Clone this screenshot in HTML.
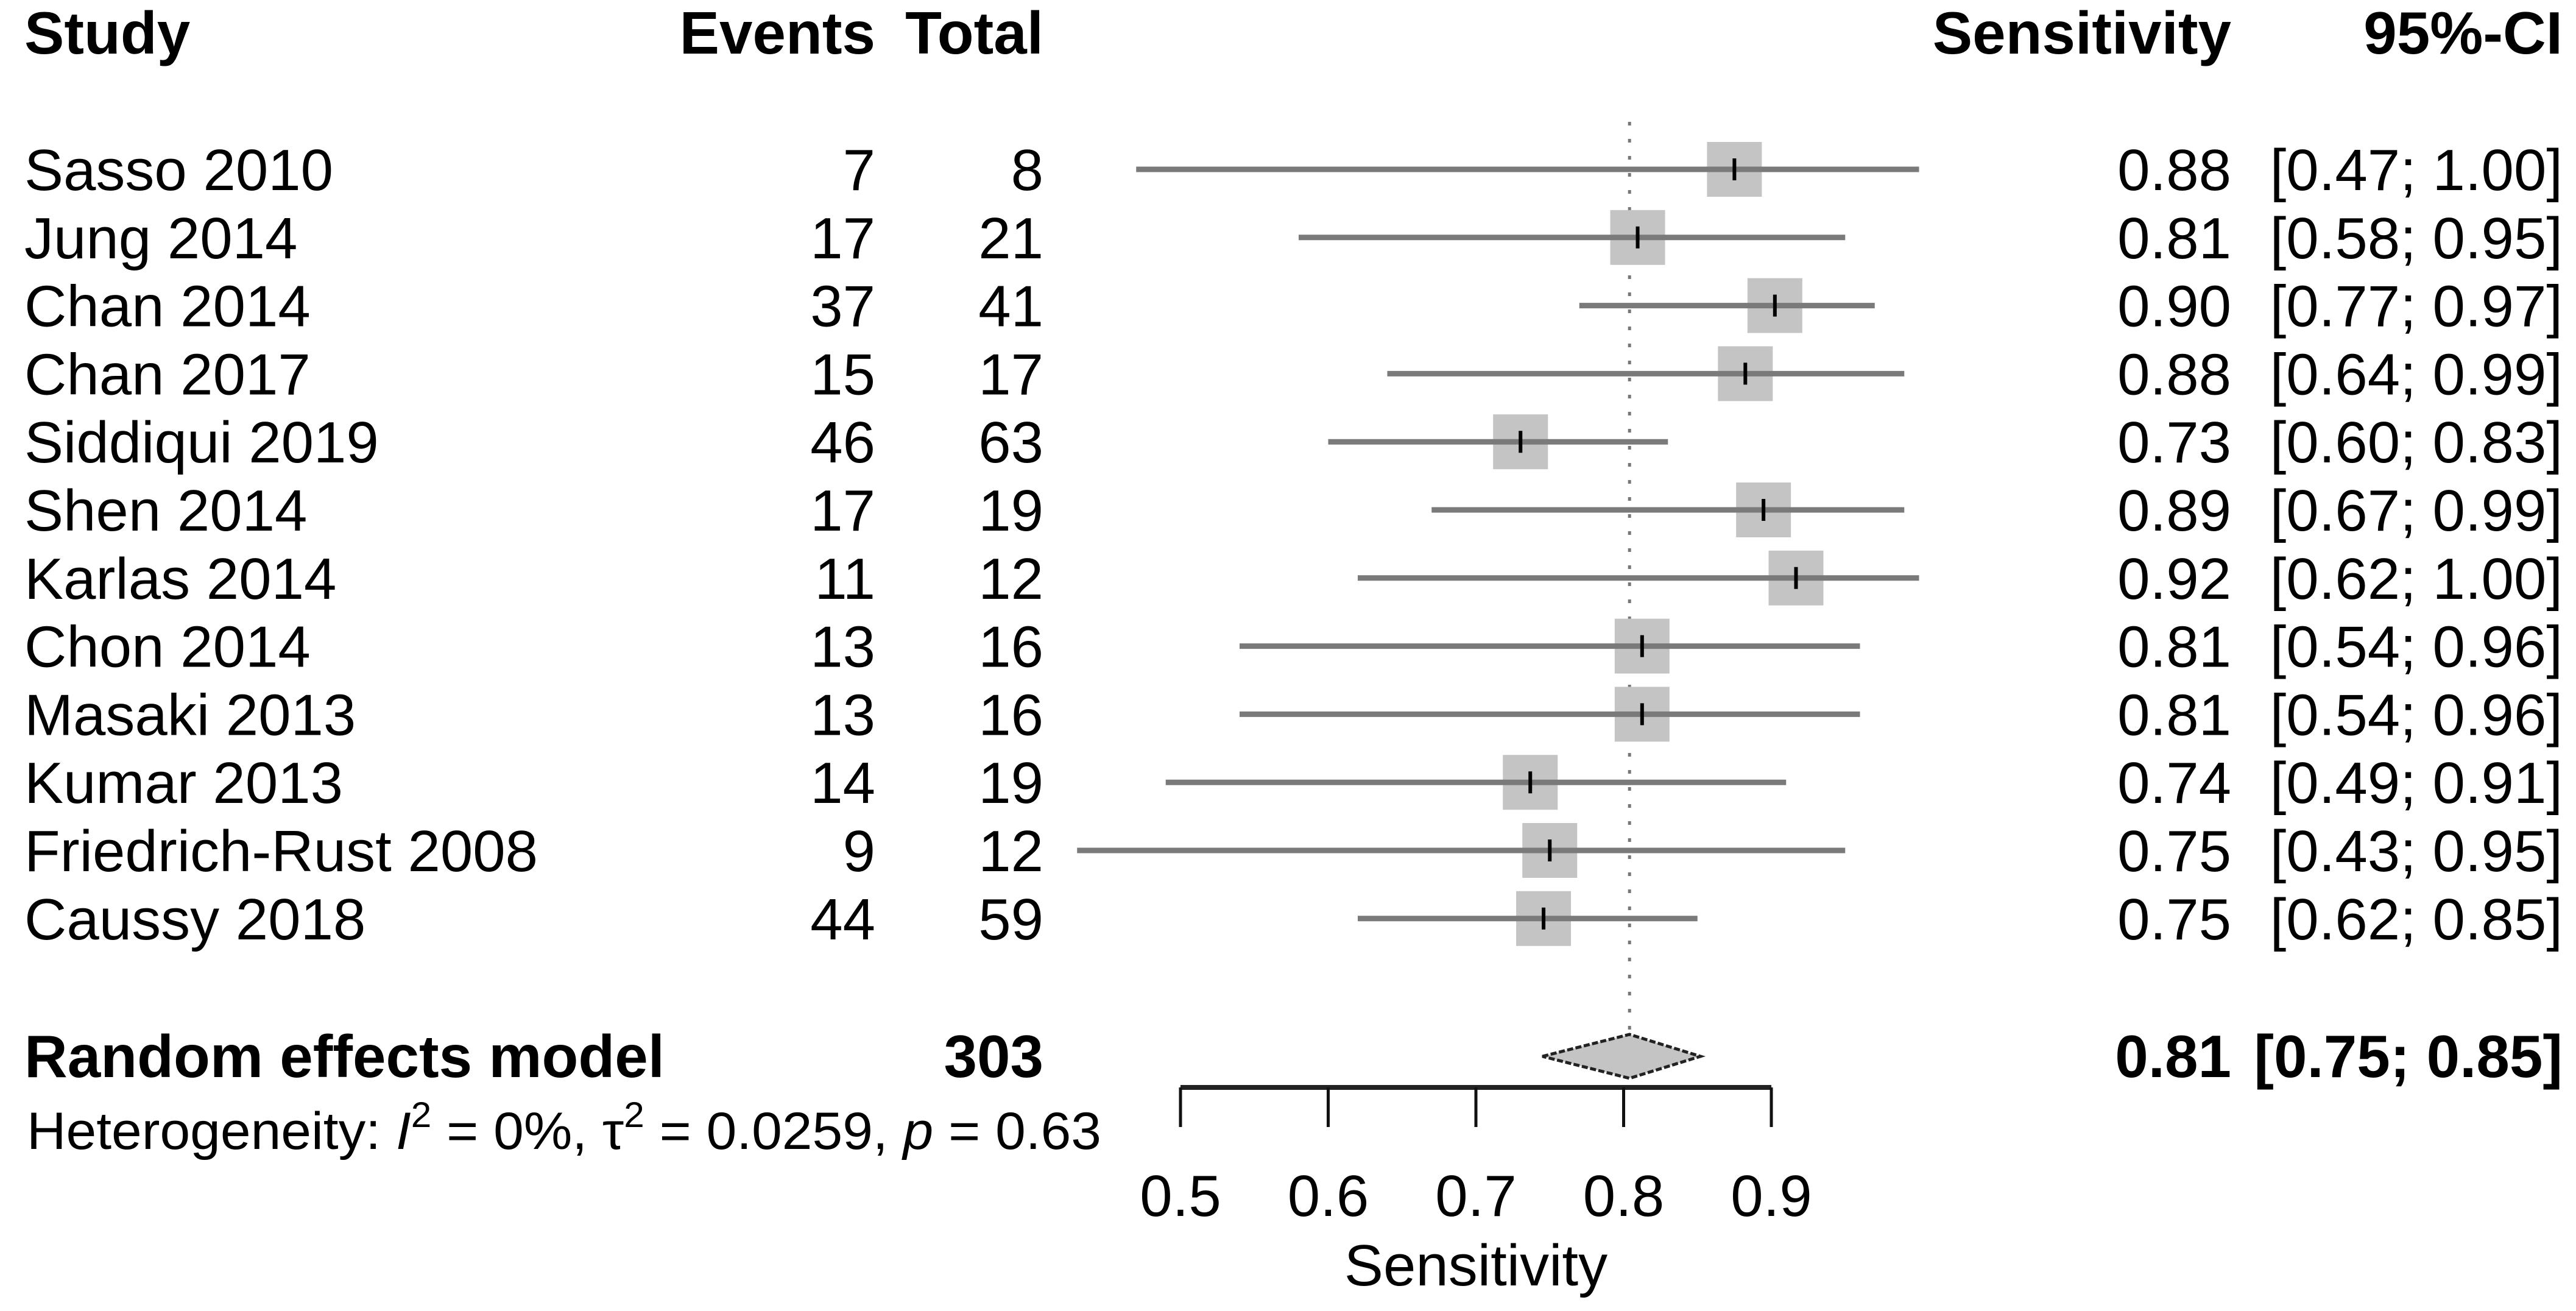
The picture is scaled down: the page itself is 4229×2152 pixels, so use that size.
<!DOCTYPE html>
<html><head><meta charset="utf-8"><style>
html,body{margin:0;padding:0;background:#fff;}
svg{display:block;font-family:"Liberation Sans",Arial,sans-serif;}
</style></head><body>
<svg id="chart" width="4229" height="2152" viewBox="0 0 4229 2152" xmlns="http://www.w3.org/2000/svg">
<g id="hdr" font-weight="bold" font-size="98">
<text x="40" y="88">Study</text>
<text x="1437" y="88" text-anchor="end">Events</text>
<text x="1713" y="88" text-anchor="end">Total</text>
<text x="3663" y="88" text-anchor="end">Sensitivity</text>
<text x="4207" y="88" text-anchor="end">95%-CI</text>
</g>
<g id="rows"></g>
<g id="marks"></g>
<g font-weight="bold" font-size="98">
<text x="40" y="1768">Random effects model</text>
<text x="1713" y="1768" text-anchor="end">303</text>
<text x="3663" y="1768" text-anchor="end">0.81</text>
<text x="4207" y="1768" text-anchor="end">[0.75; 0.85]</text>
</g>
<text x="44" y="1886" font-size="86" textLength="1764" lengthAdjust="spacingAndGlyphs">Heterogeneity: <tspan font-style="italic">I</tspan><tspan dy="-36" font-size="58">2</tspan><tspan dy="36"> = 0%, τ</tspan><tspan dy="-36" font-size="58">2</tspan><tspan dy="36"> = 0.0259, </tspan><tspan font-style="italic">p</tspan> = 0.63</text>
<text x="2423" y="2110" font-size="96" text-anchor="middle">Sensitivity</text>
</svg>
<script>
const studies=["Sasso 2010","Jung 2014","Chan 2014","Chan 2017","Siddiqui 2019","Shen 2014","Karlas 2014","Chon 2014","Masaki 2013","Kumar 2013","Friedrich-Rust 2008","Caussy 2018"];
const events=[7,17,37,15,46,17,11,13,13,14,9,44];
const totals=[8,21,41,17,63,19,12,16,16,19,12,59];
const estimates=[0.875,0.8095,0.9024,0.8824,0.7302,0.8947,0.9167,0.8125,0.8125,0.7368,0.75,0.7458];
const lowers=[0.47,0.58,0.77,0.64,0.60,0.67,0.62,0.54,0.54,0.49,0.43,0.62];
const uppers=[1.00,0.95,0.97,0.99,0.83,0.99,1.00,0.96,0.96,0.91,0.95,0.85];
const pooled=[0.804,0.745,0.852];
const ticks=[0.5,0.6,0.7,0.8,0.9];
const tickLabels=["0.5","0.6","0.7","0.8","0.9"];

const NS="http://www.w3.org/2000/svg";
const xs=v=>1938+(v-0.5)*2425;
const ys=i=>278+i*111.8;
const rows=document.getElementById('rows');
const marks=document.getElementById('marks');
function mk(tag,attrs,parent){const e=document.createElementNS(NS,tag);for(const k in attrs)e.setAttribute(k,attrs[k]);parent.appendChild(e);return e;}

let ref=mk('line',{x1:xs(pooled[0]),x2:xs(pooled[0]),y1:200,y2:1690,stroke:'#777','stroke-width':5,'stroke-dasharray':'6 22'},marks);



studies.forEach((s,i)=>{
  const y=ys(i);
  const tb=y+34;
  let t=mk('text',{x:40,y:tb,'font-size':96},rows);t.textContent=s;
  
  
  t=mk('text',{x:1437,y:tb,'font-size':96,'text-anchor':'end'},rows);t.textContent=events[i];
  
  
  t=mk('text',{x:1713,y:tb,'font-size':96,'text-anchor':'end'},rows);t.textContent=totals[i];
  
  
  t=mk('text',{x:3663,y:tb,'font-size':96,'text-anchor':'end'},rows);t.textContent=estimates[i].toFixed(2);
  
  
  t=mk('text',{x:4207,y:tb,'font-size':96,'text-anchor':'end'},rows);t.textContent='['+lowers[i].toFixed(2)+'; '+uppers[i].toFixed(2)+']';
  
  
  const sz=90;
  let sq=mk('rect',{x:xs(estimates[i])-sz/2,y:y-sz/2,width:sz,height:sz,fill:'#c4c4c4'},marks);
  
  
  let ln=mk('line',{x1:xs(lowers[i]),x2:xs(uppers[i]),y1:y,y2:y,stroke:'#7a7a7a','stroke-width':9},marks);
  
  
  let pt=mk('line',{x1:xs(estimates[i]),x2:xs(estimates[i]),y1:y-18,y2:y+18,stroke:'#000','stroke-width':6},marks);
  
  
});

const dy=1734;
let d=mk('polygon',{points:`${xs(pooled[1])},${dy} ${xs(pooled[0])},${dy-36} ${xs(pooled[2])},${dy} ${xs(pooled[0])},${dy+36}`,fill:'#c4c4c4',stroke:'#222','stroke-width':5,'stroke-dasharray':'10 4'},marks);



let ax=mk('line',{x1:xs(ticks[0]),x2:xs(ticks[ticks.length-1]),y1:1785,y2:1785,stroke:'#222','stroke-width':8},marks);


ticks.forEach((v,i)=>{
  let tk=mk('line',{x1:xs(v),x2:xs(v),y1:1785,y2:1850,stroke:'#111','stroke-width':5},marks);
  
  
  let tl=mk('text',{x:xs(v),y:1996,'font-size':96,'text-anchor':'middle'},marks);tl.textContent=tickLabels[i];
  
  
});
</script>
</body></html>
